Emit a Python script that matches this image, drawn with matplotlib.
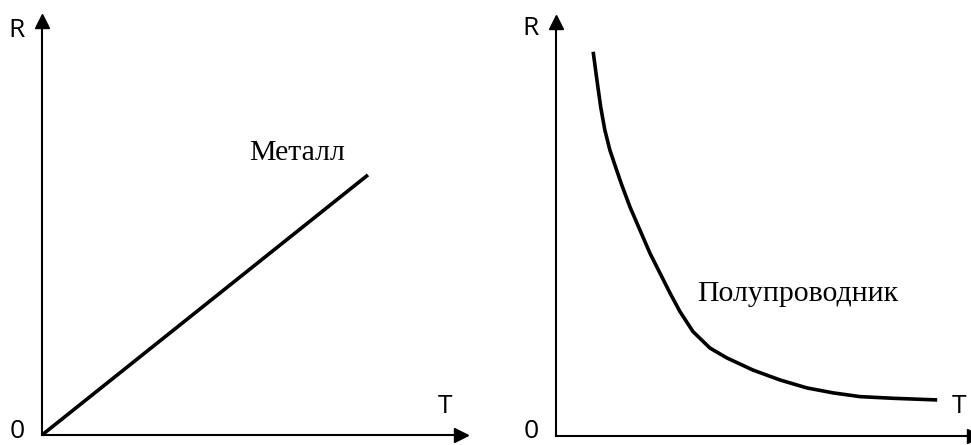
import matplotlib
matplotlib.use("Agg")
import matplotlib.pyplot as plt

# Металл: линейная зависимость R(T)
metal_T = [0.0, 7.78]
metal_R = [0.0, 6.29]

# Полупроводник: спадающая зависимость R(T)
semi_T = [0.89, 0.98, 1.07, 1.17, 1.29, 1.44, 1.57, 1.77, 2.01, 2.25,
          2.49, 2.73, 2.97, 3.28, 3.69, 4.10, 4.72, 5.37, 6.01, 6.64,
          7.28, 8.07, 9.13]
semi_R = [9.27, 8.59, 7.94, 7.38, 6.90, 6.45, 6.07, 5.53, 4.97, 4.41,
          3.93, 3.45, 3.00, 2.52, 2.12, 1.88, 1.59, 1.35, 1.16, 1.04,
          0.95, 0.91, 0.87]

labels = {'metal': 'Металл', 'semi': 'Полупроводник'}

W, H = 971, 445
fig = plt.figure(figsize=(W / 100, H / 100), dpi=100)

ax1 = fig.add_axes([42 / W, 10 / H, 419 / W, 413.5 / H])
ax2 = fig.add_axes([556 / W, 9 / H, 417.5 / W, 414.5 / H])

label_font = dict(family=['Open Sans', 'DejaVu Sans'], fontsize=19, color='black')
serif_font = dict(family=['Liberation Serif', 'DejaVu Serif'], fontsize=21.5, color='black')


def setup_axes(ax):
    ax.set_xlim(0, 10)
    ax.set_ylim(0, 10)
    for s in ['top', 'right']:
        ax.spines[s].set_visible(False)
    for s in ['left', 'bottom']:
        ax.spines[s].set_linewidth(1.5)
    ax.set_xticks([])
    ax.set_yticks([])
    ax.patch.set_alpha(0)
    # стрелки на концах осей
    ax.plot(1, 0, '>k', ms=10, transform=ax.get_yaxis_transform(), clip_on=False)
    ax.plot(0, 1, '^k', ms=10, transform=ax.get_xaxis_transform(), clip_on=False)


setup_axes(ax1)
setup_axes(ax2)

line_kw = dict(color='black', lw=2.6, solid_capstyle='butt',
               solid_joinstyle='round', clip_on=False)
ax1.plot(metal_T, metal_R, **line_kw)
ax2.plot(semi_T, semi_R, **line_kw)

ax1.text(6.09, 6.65, labels['metal'], ha='center', va='baseline', **serif_font)
ax2.text(5.80, 3.26, labels['semi'], ha='center', va='baseline', **serif_font)

ax1.text(-0.60, 9.79, 'R', ha='center', va='center', **label_font)
ax1.text(-0.60, -0.22, '0', ha='center', va='bottom', **label_font)
ax1.text(9.62, 0.70, 'T', ha='center', va='center', **label_font)

ax2.text(-0.60, 9.82, 'R', ha='center', va='center', **label_font)
ax2.text(-0.60, -0.19, '0', ha='center', va='bottom', **label_font)
ax2.text(9.65, 0.72, 'T', ha='center', va='center', **label_font)

fig.savefig('out.png', dpi=100)
